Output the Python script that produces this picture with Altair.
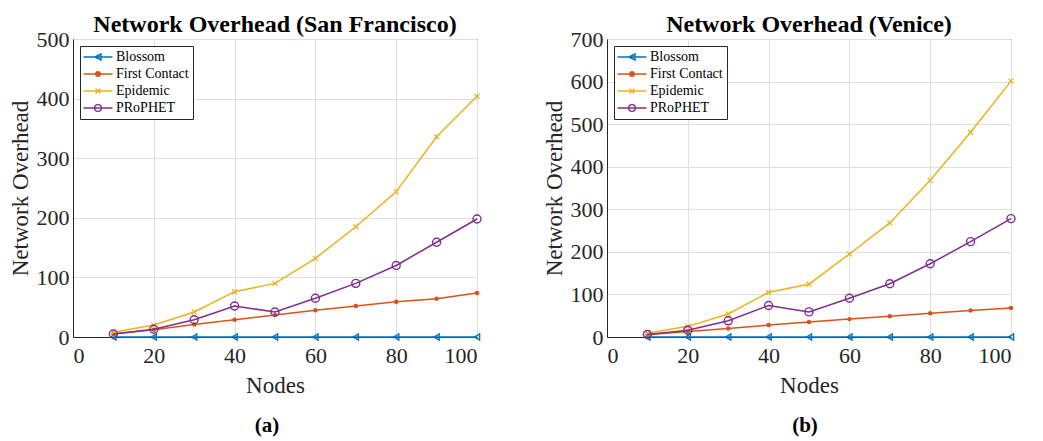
import altair as alt
import pandas as pd

nodes = [10, 20, 30, 40, 50, 60, 70, 80, 90, 100]
series = ["Blossom", "First Contact", "Epidemic", "PRoPHET"]
colors = ["#0072BD", "#D95319", "#EDB120", "#7E2F8E"]

# San Francisco
sf_blossom = [0, 0, 0, 0, 0, 0, 0, 0, 0, 0]
sf_first = [5, 12, 21, 29, 37, 45, 52, 59, 64, 74]
sf_epidemic = [8, 20, 42, 76, 90, 132, 185, 244, 336, 404]
sf_prophet = [5, 13, 29, 52, 42, 65, 90, 120, 159, 198]

# Venice
ve_blossom = [0, 0, 0, 0, 0, 0, 0, 0, 0, 0]
ve_first = [5, 13, 20, 28, 35, 42, 49, 56, 62, 68]
ve_epidemic = [9, 25, 54, 105, 124, 195, 268, 368, 481, 601]
ve_prophet = [6, 16, 38, 74, 59, 91, 125, 172, 224, 278]

x_ticks = [0, 20, 40, 60, 80, 100]
FONT = "Liberation Serif"
AX = "#262626"

marker_defs = {
    "Blossom": dict(shape="triangle-left", size=36, filled=False, strokeWidth=1.4),
    "First Contact": dict(shape="circle", size=20, filled=True, strokeWidth=1),
    "Epidemic": dict(shape="M-1,-1L1,1M-1,1L1,-1", size=25, filled=False, strokeWidth=1.2),
    "PRoPHET": dict(shape="circle", size=64, filled=False, strokeWidth=1.4),
}
LINE = "M-2.9,0L2.9,0"
legend_paths = [
    LINE + "M-0.6,0L0.6,-0.6L0.6,0.6Z",
    LINE + "M0.45,0A0.45,0.45 0 1,1 -0.45,0A0.45,0.45 0 1,1 0.45,0Z",
    LINE + "M-0.5,-0.5L0.5,0.5M-0.5,0.5L0.5,-0.5",
    LINE + "M0.67,0A0.67,0.67 0 1,1 -0.67,0A0.67,0.67 0 1,1 0.67,0Z",
]
legend_fills = ["transparent", "#D95319", "transparent", "transparent"]


def make_df(vals):
    rows = []
    for s, v in zip(series, vals):
        for n, y in zip(nodes, v):
            rows.append({"Nodes": n, "Overhead": y, "series": s})
    return pd.DataFrame(rows)


def panel(title, vals, ymax, y_ticks, sub, sub_dx):
    df = make_df(vals)
    xenc = alt.X("Nodes:Q", scale=alt.Scale(domain=[0, 100], nice=False),
                 axis=alt.Axis(values=x_ticks, title="Nodes", grid=True))
    yenc = alt.Y("Overhead:Q", scale=alt.Scale(domain=[0, ymax], nice=False),
                 axis=alt.Axis(values=y_ticks, title="Network Overhead", grid=True))
    base = alt.Chart(df).encode(x=xenc, y=yenc)
    layers = []
    for s, c in zip(series, colors):
        md = marker_defs[s]
        layers.append(
            base.transform_filter(alt.datum.series == s)
            .mark_line(color=c, strokeWidth=1.5,
                       point=alt.OverlayMarkDef(color=c, **md))
        )
    leg = alt.Legend(
        title=None, orient="top-left", offset=7, padding=4,
        strokeColor="#262626", fillColor="white", cornerRadius=0,
        labelFont=FONT, labelFontSize=14, labelColor="black",
        symbolSize=100, symbolStrokeWidth=1.4, symbolOpacity=1,
        symbolOffset=7, labelOffset=11, rowPadding=3,
    )
    legend_layer = base.mark_point(opacity=0).encode(
        color=alt.Color("series:N", scale=alt.Scale(domain=series, range=colors), legend=leg, sort=series),
        shape=alt.Shape("series:N", scale=alt.Scale(domain=series, range=legend_paths), legend=leg, sort=series),
        fill=alt.Fill("series:N", scale=alt.Scale(domain=series, range=legend_fills), legend=leg, sort=series),
    )
    layers.append(legend_layer)
    chart = alt.layer(*layers).properties(
        width=404, height=298,
        title=alt.TitleParams(title, font=FONT, fontSize=24, fontWeight="bold",
                              color="black", anchor="middle", offset=-9),
    )
    return alt.vconcat(chart).properties(
        title=alt.TitleParams(sub, orient="bottom", font=FONT, fontSize=21,
                              fontWeight="bold", color="black", anchor="middle",
                              offset=17, dx=sub_dx)
    )


left = panel("Network Overhead (San Francisco)",
             [sf_blossom, sf_first, sf_epidemic, sf_prophet], 500,
             [0, 100, 200, 300, 400, 500], "(a)", 20)
right = panel("Network Overhead (Venice)",
              [ve_blossom, ve_first, ve_epidemic, ve_prophet], 700,
              [0, 100, 200, 300, 400, 500, 600, 700], "(b)", 24)

chart = alt.hconcat(left, right, spacing=56).resolve_scale(
    color="independent", shape="independent", fill="independent"
).resolve_legend(
    color="independent", shape="independent", fill="independent"
).properties(
    padding={"left": 0, "top": 4, "right": 5, "bottom": 2}
).configure_view(
    stroke=AX, strokeWidth=1
).configure_axis(
    labelFont=FONT, labelFontSize=22, labelColor=AX,
    titleFont=FONT, titleFontSize=23, titleFontWeight="normal", titleColor=AX,
    domainColor=AX, domainWidth=1, ticks=False, tickSize=0, labelPadding=6,
    gridColor="#dfdfdf", gridWidth=1,
).configure_axisY(
    titlePadding=4, labelPadding=4
).configure_axisX(
    titlePadding=8, labelPadding=8
).configure_concat(spacing=0)

chart.save("out.html", embed_options={"renderer": "svg", "actions": False})
